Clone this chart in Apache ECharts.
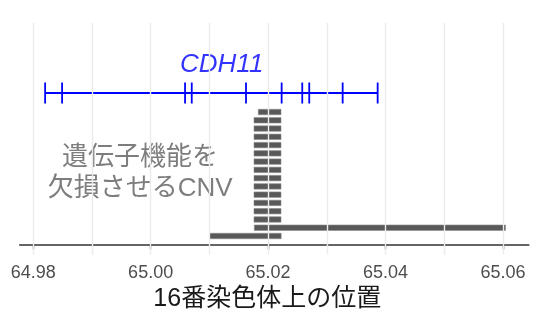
<!DOCTYPE html>
<html>
<head>
<meta charset="utf-8">
<script src="https://cdn.jsdelivr.net/npm/echarts@6/dist/echarts.min.js"></script>
<style>html,body{margin:0;padding:0;background:#fff;}#c{width:543px;height:317px;}</style>
</head>
<body>
<div id="c"></div>
<script>
// ---- data ----
const xTicks = [64.98, 65.00, 65.02, 65.04, 65.06];
const xMinorTicks = [64.99, 65.01, 65.03, 65.05];
const xAxisTitle = '16番染色体上の位置';

const geneName = 'CDH11';
const geneRow = 18.3;
const geneStart = 64.98203;
const geneEnd = 65.03866;
const exonPositions = [64.98203, 64.98492, 65.00586, 65.00700, 65.01624, 65.02231, 65.02582, 65.02701, 65.03270, 65.03866];
const geneLabelPos = [65.0121, 21.75];

// CNVs, bottom row first (row 1 .. row 16)
const cnvRows  = [1, 2, 3, 4, 5, 6, 7, 8, 9, 10, 11, 12, 13, 14, 15, 16];
const cnvStart = [65.01003, 65.01765, 65.01760, 65.01760, 65.01760, 65.01760, 65.01760, 65.01760, 65.01760, 65.01760, 65.01760, 65.01760, 65.01760, 65.01760, 65.01760, 65.01833];
const cnvEnd   = [65.02223, 65.06043, 65.02220, 65.02220, 65.02220, 65.02220, 65.02220, 65.02220, 65.02220, 65.02220, 65.02220, 65.02220, 65.02220, 65.02220, 65.02220, 65.02220];
const cnvLabel = '遺伝子機能を\n欠損させるCNV';
const cnvLabelPos = [64.9982, 8.62];

// ---- chart ----
const chart = echarts.init(document.getElementById('c'), null, {renderer: 'canvas'});
const latin = "'Liberation Sans', 'Noto Sans CJK JP', sans-serif";

const cnvData = cnvRows.map((r, i) => [cnvStart[i], cnvEnd[i], r]);
const exonData = exonPositions.map(p => [p, geneRow]);
const gridLines = xTicks.concat(xMinorTicks).map(v => ({xAxis: v}));

chart.setOption({
  animation: false,
  backgroundColor: '#ffffff',
  grid: {left: 19.7, right: 14.2, top: 23, bottom: 62.4, containLabel: false},
  xAxis: {
    type: 'value',
    min: 64.9777,
    max: 65.0644,
    name: xAxisTitle,
    nameLocation: 'middle',
    nameGap: 30,
    nameTextStyle: {fontSize: 25, color: '#1a1a1a', fontFamily: latin, padding: [0, 14, 0, 0]},
    axisLine: {show: true, lineStyle: {color: '#333333', width: 1.6}},
    axisTick: {show: true, customValues: xTicks, length: 5, lineStyle: {color: '#333333', width: 1.4}},
    axisLabel: {
      customValues: xTicks,
      formatter: v => v.toFixed(2),
      fontSize: 18, color: '#4d4d4d', margin: 9, fontFamily: latin
    },
    splitLine: {show: false}
  },
  yAxis: {
    type: 'value', min: -1.25, max: 26.77, show: false,
    splitLine: {show: false}
  },
  series: [
    {
      type: 'scatter', data: [], z: 0, silent: true,
      markLine: {
        silent: true, symbol: ['none', 'none'], label: {show: false},
        lineStyle: {color: '#ebebeb', width: 1.4, type: 'solid'},
        data: gridLines
      }
    },
    {
      type: 'line', z: 3,
      data: [[geneStart, geneRow], [geneEnd, geneRow]],
      symbol: 'none', lineStyle: {color: '#0000ff', width: 2.2}, silent: true
    },
    {
      type: 'custom', z: 3,
      data: exonData,
      renderItem: function (params, api) {
        const c = api.coord([api.value(0), api.value(1)]);
        const h = api.size([0, 2.54])[1];
        return {type: 'line', shape: {x1: c[0], y1: c[1] - h / 2, x2: c[0], y2: c[1] + h / 2},
                style: {stroke: '#0000ff', lineWidth: 1.8}};
      }
    },
    {
      type: 'custom', z: 2,
      data: cnvData,
      renderItem: function (params, api) {
        const s = api.coord([api.value(0), api.value(2)]);
        const e = api.coord([api.value(1), api.value(2)]);
        const h = api.size([0, 0.66])[1];
        return {type: 'rect', shape: {x: s[0], y: s[1] - h / 2, width: e[0] - s[0], height: h},
                style: {fill: '#595959', stroke: '#8c8c8c', lineWidth: 0.6}};
      }
    },
    {
      type: 'scatter', z: 4, symbolSize: 0, silent: true,
      data: [geneLabelPos],
      label: {show: true, position: 'inside', formatter: geneName,
              fontSize: 26, fontStyle: 'italic', color: '#0000ff', fontFamily: latin}
    },
    {
      type: 'scatter', z: 4, symbolSize: 0, silent: true,
      data: [cnvLabelPos],
      label: {show: true, position: 'inside', formatter: cnvLabel, align: 'center',
              fontSize: 26, lineHeight: 31, color: '#5c5c5c', fontFamily: latin}
    }
  ]
});
</script>
</body>
</html>
